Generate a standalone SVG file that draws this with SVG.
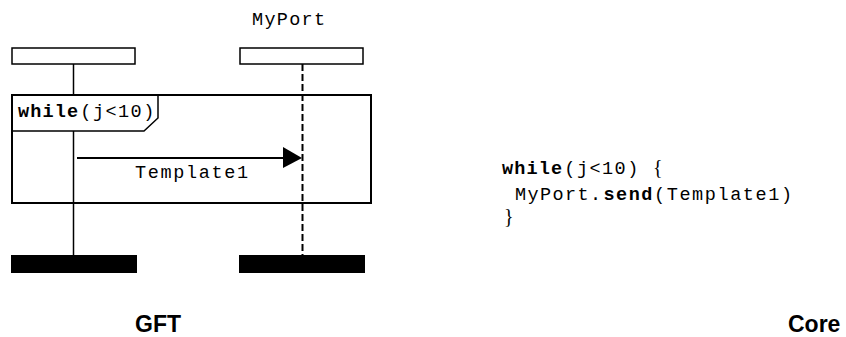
<svg xmlns="http://www.w3.org/2000/svg" width="846" height="337" viewBox="0 0 846 337">
<style>
.mono{font-family:"Liberation Mono","Cousine","DejaVu Sans Mono",monospace;font-size:18.5px;fill:#000}
.b{font-weight:bold}
.ttl{font-family:"Liberation Sans",Arial,sans-serif;font-size:23px;font-weight:bold;fill:#000}
.brace{font-family:"Liberation Serif","Times New Roman",serif;font-size:20px;fill:#000}
.head{fill:#fff;stroke:#000;stroke-width:1.5}
.end{fill:#000}
</style>
<rect width="846" height="337" fill="#fff"/>
<g id="inst-left">
  <rect class="head" x="12" y="48" width="123" height="16"/>
  <rect class="end" x="11" y="255" width="126" height="18"/>
</g>
<g id="inst-myport">
  <text class="mono" x="252" y="25" textLength="73" lengthAdjust="spacing">MyPort</text>
  <rect class="head" x="240" y="48" width="123" height="16"/>
  <rect class="end" x="239" y="255" width="126" height="18"/>
</g>
<g id="connectors">
  <line x1="73.5" y1="64" x2="73.5" y2="255" stroke="#000" stroke-width="1.5"/>
  <line x1="302.5" y1="64" x2="302.5" y2="255" stroke="#000" stroke-width="2" stroke-dasharray="7,3"/>
  <line x1="77" y1="158" x2="286" y2="158" stroke="#000" stroke-width="2"/>
  <polygon points="283,147 302,158 283,168" fill="#000"/>
  <text class="mono" x="135" y="178" textLength="113" lengthAdjust="spacing">Template1</text>
</g>
<g id="while-frame">
  <rect x="12" y="95" width="359" height="108" fill="none" stroke="#000" stroke-width="2"/>
  <polygon points="12,95 12,131 144,131 158,118 158,95" fill="#fff" stroke="#000" stroke-width="1.5"/>
  <line x1="12" y1="95" x2="371" y2="95" stroke="#000" stroke-width="2"/>
  <line x1="12" y1="95" x2="12" y2="131" stroke="#000" stroke-width="2"/>
  <text class="mono" y="117"><tspan class="b" x="18" textLength="60" lengthAdjust="spacing">while</tspan><tspan x="80.3" textLength="74" lengthAdjust="spacing">(j&lt;10)</tspan></text>
</g>
<g id="core-code">
  <text class="mono" y="174"><tspan class="b" x="502" textLength="60" lengthAdjust="spacing">while</tspan><tspan x="564.3" textLength="74" lengthAdjust="spacing">(j&lt;10)</tspan></text>
  <text class="brace" x="653" y="174">{</text>
  <text class="mono" y="200"><tspan x="515" textLength="86" lengthAdjust="spacing">MyPort.</tspan><tspan class="b" x="603.4" textLength="49" lengthAdjust="spacing">send</tspan><tspan x="654" textLength="138" lengthAdjust="spacing">(Template1)</tspan></text>
  <text class="brace" x="504" y="223">}</text>
</g>
<text class="ttl" x="135" y="332">GFT</text>
<text class="ttl" x="788" y="332">Core</text>
</svg>
